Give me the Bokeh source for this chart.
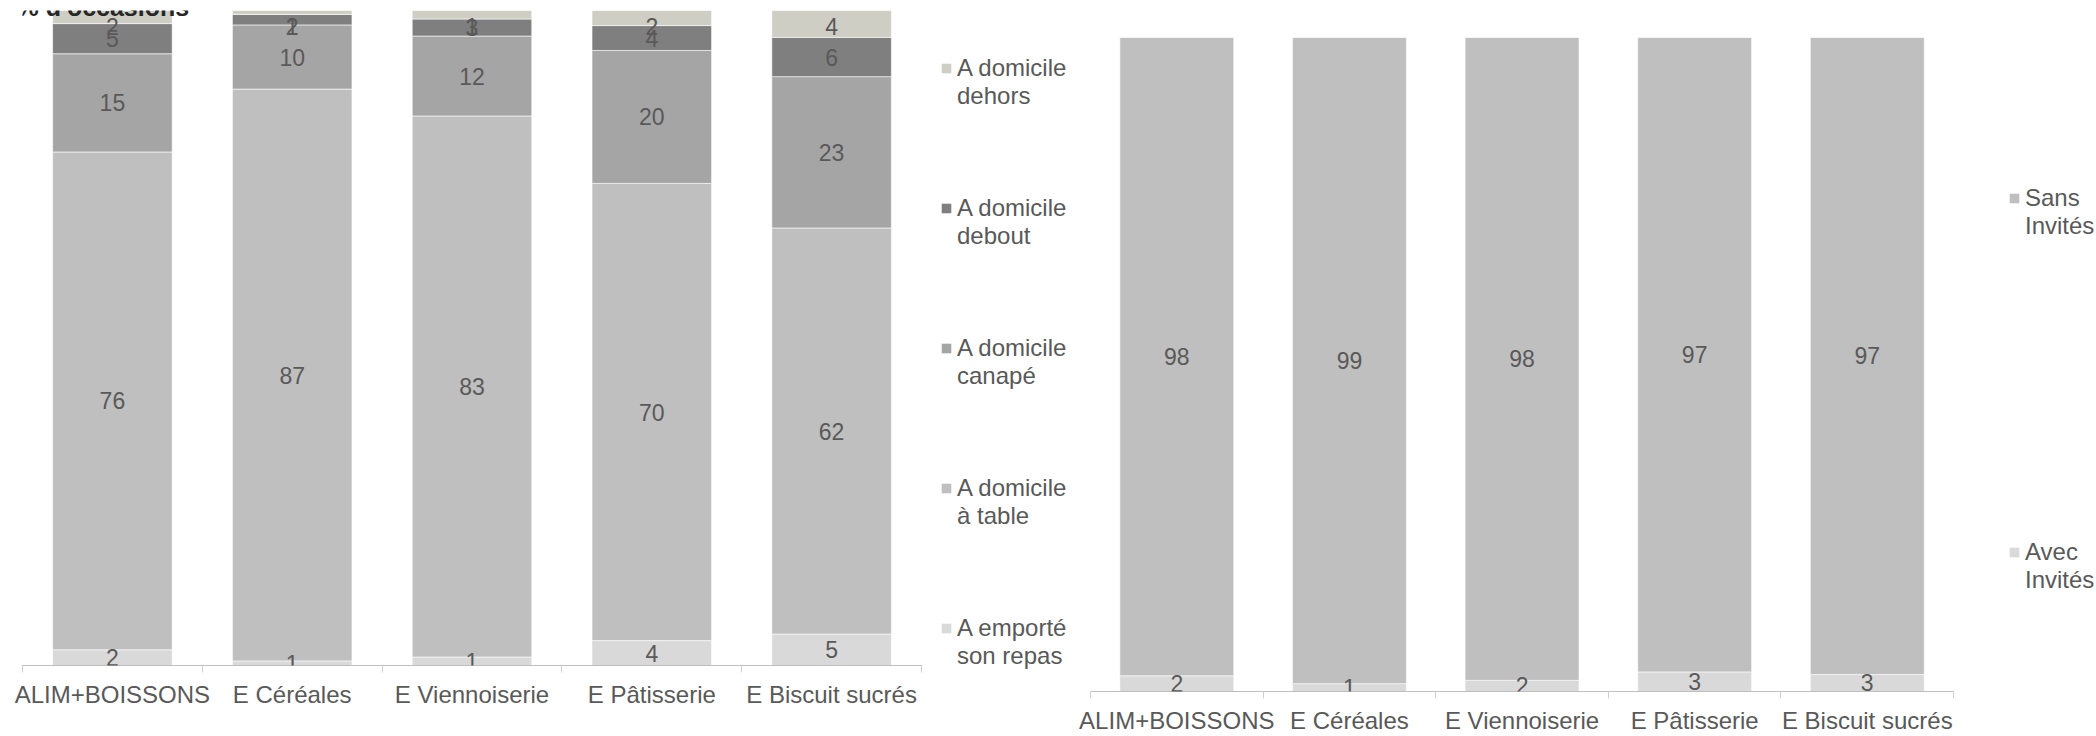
from bokeh.plotting import figure
from bokeh.models import (Range1d, FixedTicker, ColumnDataSource, LabelSet, Label,
                          Legend, LegendItem)
from bokeh.layouts import row
from bokeh.core.properties import value
from bokeh.embed import file_html
from bokeh.resources import INLINE

# ---------------- data ----------------
categories = ["ALIM+BOISSONS", "E Céréales", "E Viennoiserie", "E Pâtisserie", "E Biscuit sucrés"]

# left chart (% d'occasions), stacked bottom -> top
emporte = [2.4, 0.7, 1.3, 3.8, 4.8]
table = [76.0, 87.3, 82.6, 69.8, 62.0]
canape = [15.0, 9.8, 12.2, 20.3, 23.1]
debout = [4.6, 1.6, 2.6, 3.8, 6.0]
dehors = [2.0, 0.6, 1.3, 2.3, 4.1]
left_names = ["A emporté\nson repas", "A domicile\nà table", "A domicile\ncanapé",
              "A domicile\ndebout", "A domicile\ndehors"]

# right chart, stacked bottom -> top
avec = [2.4, 1.2, 1.7, 3.0, 2.6]
sans = [97.6, 98.8, 98.3, 97.0, 97.4]
right_names = ["Avec\nInvités", "Sans\nInvités"]

title_text = "% d'occasions"

left_colors = ["#D9D9D9", "#BFBFBF", "#A5A5A5", "#7F7F7F", "#CECEC5"]
right_colors = ["#D9D9D9", "#BFBFBF"]

TEXT = "#595959"
FONT = "Liberation Sans"
FS_LAB = "23px"
FS_AX = "24px"
xs = [i + 0.5 for i in range(len(categories))]
n = len(categories)


def make_fig(width, height, series, colors, xr, bar_width, clamp,
             mb_left, mb_right, mb_top, mb_bottom):
    p = figure(width=width, height=height, x_range=Range1d(*xr),
               y_range=Range1d(0, 100), output_backend="svg", toolbar_location=None,
               min_border_left=mb_left, min_border_right=mb_right,
               min_border_top=mb_top, min_border_bottom=mb_bottom)
    p.frame_align = False
    p.outline_line_color = None
    p.grid.visible = False
    p.yaxis.visible = False
    p.background_fill_color = "white"
    p.border_fill_color = "white"

    keys = ["s%d" % i for i in range(len(series))]
    data = {"x": xs}
    for k, s in zip(keys, series):
        data[k] = s
    src = ColumnDataSource(data)
    p.vbar_stack(keys, x="x", width=bar_width, color=colors, source=src,
                 line_color="white", line_width=0.6)

    # data labels
    lx, ly, lt = [], [], []
    for i in range(n):
        bottom = 0.0
        for s in series:
            v = s[i]
            mid = bottom + v / 2.0
            lx.append(xs[i])
            ly.append(min(mid, clamp))
            lt.append("%d" % int(v + 0.5))
            bottom += v
    lsrc = ColumnDataSource(dict(x=lx, y=ly, t=lt))
    p.add_layout(LabelSet(x="x", y="y", text="t", source=lsrc, text_align="center",
                          text_baseline="middle", text_font_size=value(FS_LAB),
                          text_color=TEXT, text_font=value(FONT)))

    ax = p.xaxis[0]
    ax.bounds = (0, n)
    ax.ticker = FixedTicker(ticks=xs, minor_ticks=list(range(n + 1)))
    ax.major_label_overrides = {x: c for x, c in zip(xs, categories)}
    ax.major_tick_out = 0
    ax.major_tick_in = 0
    ax.minor_tick_out = 7
    ax.minor_tick_in = 0
    ax.minor_tick_line_color = "#D0D0D0"
    ax.axis_line_color = "#BFBFBF"
    ax.major_label_text_font_size = FS_AX
    ax.major_label_text_color = TEXT
    ax.major_label_text_font = FONT
    ax.major_label_standoff = 8
    return p


def legend_items(p, names, colors):
    # legend swatches: zero-height bars (invisible in the plot) carrying the colours
    items = []
    for nm, c in zip(names, colors):
        r = p.vbar(x=xs[:1], top=[0], bottom=[0], width=0.5, fill_color=c,
                   line_color=None)
        # leading blank line keeps the square on the first text line
        items.append(LegendItem(label="\n" + nm, renderers=[r]))
    return items[::-1]


def make_legend(items, loc, spacing):
    return Legend(items=items, location=loc, orientation="vertical",
                  label_text_font_size="24px", label_text_color=TEXT, label_text_font=FONT,
                  label_text_line_height=1.12, glyph_width=12, glyph_height=12,
                  label_standoff=5, padding=0, margin=0, spacing=spacing,
                  border_line_color=None, background_fill_alpha=0)


# left chart: frame 22..921 px horizontally, 10..665 px vertically
pl = make_fig(930, 736, [emporte, table, canape, debout, dehors], left_colors,
              (0, n), 0.665, 97.55, 22, 9, 10, 71)
pl.add_layout(Label(x=-0.0334, y=100.46, text=title_text, text_font=FONT,
                    text_font_size="25px", text_font_style="bold", text_color="#262626",
                    text_baseline="alphabetic"))

# right chart: frame 930..2096 px (categories span 1090..1953 px), 37..692 px vertically
pr = make_fig(1166, 736, [avec, sans], right_colors, (-0.927, 5.828), 0.66, 200,
              0, 0, 37, 44)
pr.add_layout(make_legend(legend_items(pr, left_names, left_colors), (10, 21), 56))
pr.add_layout(make_legend(legend_items(pr, right_names, right_colors), (1078, 97), 270))

layout = row(pl, pr)
open("out.html", "w").write(file_html(layout, INLINE))
